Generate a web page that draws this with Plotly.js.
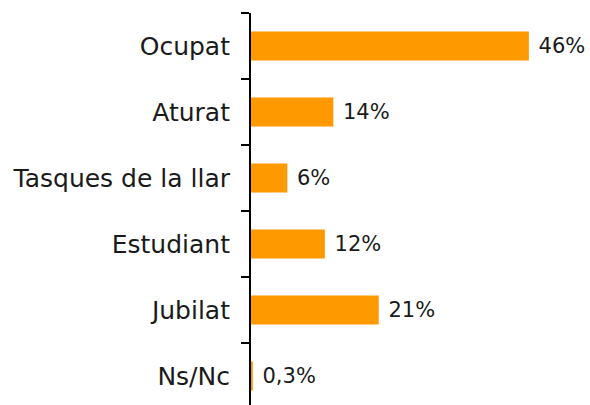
<!DOCTYPE html>
<html>
<head>
<meta charset="utf-8">
<script src="https://cdn.plot.ly/plotly-3.0.1.min.js"></script>
<style>html,body{margin:0;padding:0;background:#fff;}#chart{width:590px;height:405px;}</style>
</head>
<body>
<div id="chart"></div>
<script>
const categories = ["Ocupat", "Aturat", "Tasques de la llar", "Estudiant", "Jubilat", "Ns/Nc"];
const values = [45.9, 13.6, 6.0, 12.2, 21.1, 0.3];
const labels = ["46%", "14%", "6%", "12%", "21%", "0,3%"];

const trace = {
  type: "bar",
  orientation: "h",
  y: categories,
  x: values,
  text: labels,
  texttemplate: " %{text}",
  textposition: "outside",
  cliponaxis: false,
  textfont: {family: "DejaVu Sans", size: 21, color: "#1a1a1a"},
  marker: {color: "#FF9900"},
  hoverinfo: "none"
};

const layout = {
  width: 590,
  height: 405,
  margin: {l: 251, r: 0, t: 13, b: 0},
  paper_bgcolor: "#ffffff",
  plot_bgcolor: "#ffffff",
  showlegend: false,
  bargap: 0.56,
  xaxis: {
    range: [0, 56],
    visible: false,
    showgrid: false,
    zeroline: false
  },
  yaxis: {
    type: "category",
    range: [5.44, -0.5],
    showline: true,
    linecolor: "#000000",
    linewidth: 2,
    ticks: "outside",
    tickson: "boundaries",
    ticklen: 8,
    tickwidth: 2,
    tickcolor: "#000000",
    ticklabelstandoff: 14,
    showgrid: false,
    zeroline: false,
    tickfont: {family: "DejaVu Sans", size: 25, color: "#1a1a1a"}
  }
};

Plotly.newPlot("chart", [trace], layout, {displayModeBar: false, staticPlot: true});
</script>
</body>
</html>
